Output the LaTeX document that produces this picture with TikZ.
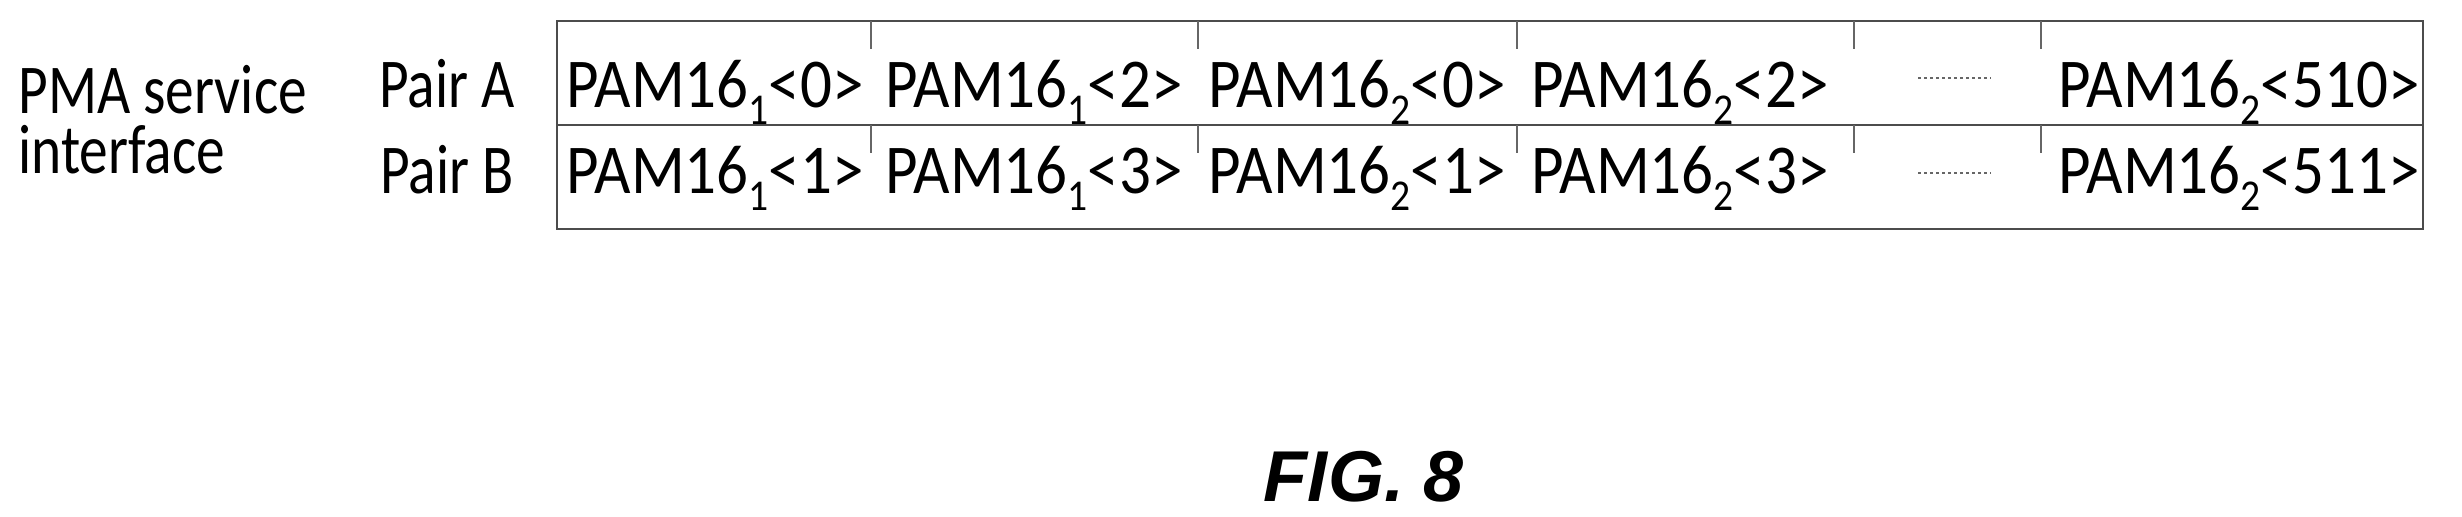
\documentclass[tikz,border=0pt]{standalone}
\usepackage{fontspec}
\usepackage{graphicx}
\setmainfont{Carlito}
\newfontfamily\figfont{Liberation Sans}
\newcommand{\cz}[1]{\scalebox{0.82}[1]{#1}}
\newcommand{\cw}[1]{\scalebox{0.9}[1]{#1}}
\newcommand{\sbx}[1]{\raisebox{-0.25em}{\fontsize{22}{24}\selectfont #1}}
\begin{document}
\begin{tikzpicture}[x=0.5pt,y=-0.5pt,
  lbl/.style={inner sep=0pt,anchor=base,font=\fontsize{35}{40}\selectfont},
  frame/.style={draw=black!70,line width=0.9pt},
  tick/.style={draw=black!60,line width=0.8pt},
  dots/.style={draw=black!60,line width=1pt,dash pattern=on 1.5pt off 1.5pt}]
\useasboundingbox (0,0) rectangle (2462,516);
\draw[frame] (557,21) rectangle (2423,229);
\draw[frame] (557,125) -- (2423,125);
\foreach \x in {871,1198,1517,1854,2041}{
  \draw[tick] (\x,21) -- (\x,49);
  \draw[tick] (\x,125) -- (\x,153);
}
\node[lbl,anchor=base west] (pma) at (18,113) {\cz{PMA service}};
\node[lbl,anchor=base west] (intf) at (18,173) {\cz{interface}};
\node[lbl] (pa) at (447,107) {\cz{Pair A}};
\node[lbl] (pb) at (447,193) {\cz{Pair B}};
\node[lbl] (a1) at (715,107) {\cw{PAM16\sbx{1}<0>}};
\node[lbl] (a2) at (1034,107) {\cw{PAM16\sbx{1}<2>}};
\node[lbl] (a3) at (1357,107) {\cw{PAM16\sbx{2}<0>}};
\node[lbl] (a4) at (1680,107) {\cw{PAM16\sbx{2}<2>}};
\node[lbl] (a5) at (2239,107) {\cw{PAM16\sbx{2}<510>}};
\node[lbl] (b1) at (715,193) {\cw{PAM16\sbx{1}<1>}};
\node[lbl] (b2) at (1034,193) {\cw{PAM16\sbx{1}<3>}};
\node[lbl] (b3) at (1357,193) {\cw{PAM16\sbx{2}<1>}};
\node[lbl] (b4) at (1680,193) {\cw{PAM16\sbx{2}<3>}};
\node[lbl] (b5) at (2239,193) {\cw{PAM16\sbx{2}<511>}};
\draw[dots] (1918,78) -- (1991,78);
\draw[dots] (1918,173) -- (1991,173);
\node[inner sep=0pt,font=\figfont\bfseries\itshape\fontsize{36}{40}\selectfont] (fig) at (1364,477) {FIG. 8};
\end{tikzpicture}
\end{document}
